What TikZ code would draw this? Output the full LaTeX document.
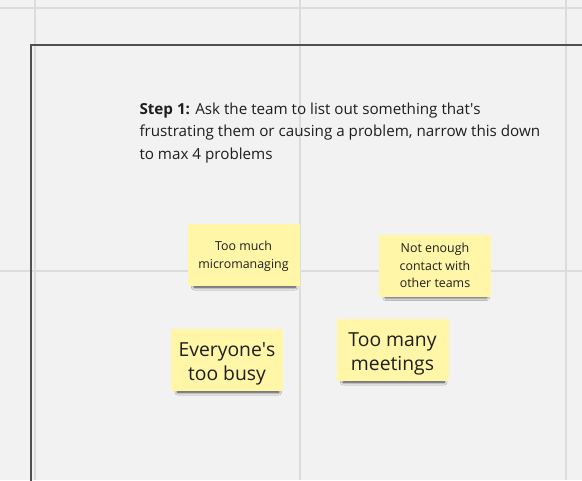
\documentclass[tikz,border=0pt]{standalone}
\usepackage{fontspec}
\setmainfont{Open Sans}
\usetikzlibrary{shadows.blur}

\definecolor{boardgray}{RGB}{242,242,242}
\definecolor{gridgray}{RGB}{220,220,220}
\definecolor{framegray}{RGB}{80,80,80}
\definecolor{stickyyellow}{RGB}{255,246,168}
\definecolor{inkgray}{RGB}{30,30,30}

\newcommand{\apos}{\textquotesingle}

\tikzset{every picture/.style={line width=0.75pt}}
\tikzset{
  gridline/.style={color=gridgray, line width=1.5pt},
  sticky/.style={fill=stickyyellow, text=inkgray, align=center, inner sep=0.75pt,
    minimum width=84pt, minimum height=46.5pt,
    blur shadow={shadow xshift=1pt, shadow yshift=-3.5pt, shadow opacity=80,
      shadow scale=0.9, shadow blur radius=2.5pt, shadow blur steps=8}},
  smallnote/.style={sticky, font=\fontsize{9.3}{13.2}\selectfont},
  bignote/.style={sticky, font=\fontsize{14.5}{18}\selectfont, text height=34.5pt}
}

\begin{document}
\begin{tikzpicture}[x=0.75pt,y=0.75pt,yscale=-1,xscale=1]
	%set diagram to the size of the board
	\fill [boardgray] (0,0) rectangle (582,480);
	\useasboundingbox (0,0) rectangle (582,480);
	
	%Grid Lines
	\draw [gridline] (35,0) -- (35,480);
	\draw [gridline] (300,0) -- (300,480);
	\draw [gridline] (566,0) -- (566,480);
	\draw [gridline] (0,8) -- (582,8);
	\draw [gridline] (0,271) -- (582,271);
	
	%Frame
	\draw [color=framegray, line width=1.1pt] (31,495) -- (31,45) -- (600,45);
	
	% Text Node
	\node (step) [anchor=north west, inner sep=0.75pt, align=left, text=inkgray,
	  font=\fontsize{11.4}{17.2}\selectfont] at (138,101)
	  {\textbf{Step 1:} Ask the team to list out something that\apos s\\
	   frustrating them or causing a problem, narrow this down\\
	   to max 4 problems};
	
	% Sticky Notes
	\node (micro) [smallnote, text height=22.5pt] at (243.5,255) {Too much\\micromanaging};
	\node (contact) [smallnote] at (435,265.5) {Not enough\\contact with\\other teams};
	\node (busy) [bignote] at (227,360) {Everyone\apos s\\too busy};
	\node (meetings) [bignote] at (392.5,350) {Too many\\meetings};
	
\end{tikzpicture}
\end{document}
